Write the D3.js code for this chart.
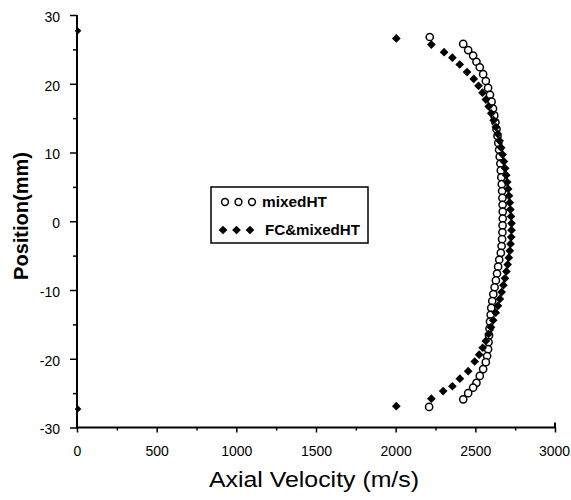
<!DOCTYPE html>
<html>
<head>
<meta charset="utf-8">
<script src="https://cdn.jsdelivr.net/npm/d3@7"></script>
<style>
  body { margin: 0; background: #fff; }
  svg { display: block; font-family: Arial, "Liberation Sans", sans-serif; }
</style>
</head>
<body>
<div id="chart"></div>
<script>
// mixedHT (open markers)
const openPos = [26.8, 25.8, 24.9, 24.1, 23.2, 22.4, 21.4, 20.4, 19.4, 18.4, 17.4, 16.4, 15.4, 14.4,
  13.4, 12.4, 11.4, 10.4, 9.4, 8.4, 7.4, 6.4, 5.4, 4.4, 3.4, 2.4, 1.4, 0.4, -0.6, -1.6, -2.6, -3.6,
  -4.6, -5.6, -6.6, -7.6, -8.6, -9.6, -10.6, -11.6, -12.6, -13.6, -14.6, -15.6, -16.6, -17.6, -18.6,
  -19.6, -20.5, -21.5, -22.5, -23.5, -24.2, -25.0, -25.9, -27.0];
const openVel = [2214, 2424, 2455, 2486, 2507, 2528, 2549, 2566, 2580, 2592, 2602, 2611, 2619, 2626,
  2633, 2639, 2644, 2649, 2653, 2657, 2660, 2663, 2666, 2668, 2670, 2671, 2672, 2672, 2671, 2670, 2668, 2665,
  2660, 2650, 2643, 2636, 2629, 2621, 2613, 2606, 2600, 2596, 2592, 2589, 2586, 2583, 2580,
  2574, 2566, 2549, 2528, 2507, 2486, 2455, 2424, 2210];

// FC&mixedHT (filled markers)
const filledPos = [26.6, 25.7, 24.6, 23.8, 22.8, 21.7, 20.7, 19.7, 18.7, 17.7, 16.7, 15.7, 14.7, 13.7,
  12.7, 11.7, 10.7, 9.7, 8.7, 7.7, 6.7, 5.7, 4.7, 3.7, 2.7, 1.7, 0.7, -0.3, -1.3, -2.3, -3.3, -4.3,
  -5.3, -6.3, -7.3, -8.3, -9.3, -10.3, -11.3, -12.3, -13.3, -14.4, -15.4, -16.4, -17.4, -18.4, -19.4,
  -20.4, -21.8, -22.9, -24.0, -24.7, -25.8, -26.9];
const filledVel = [2004, 2224, 2304, 2356, 2402, 2448, 2490, 2520, 2545, 2566, 2584, 2600, 2615, 2629,
  2641, 2652, 2662, 2671, 2679, 2687, 2694, 2700, 2706, 2711, 2716, 2720, 2724, 2727, 2727, 2725, 2721, 2716,
  2710, 2703, 2695, 2686, 2676, 2665, 2654, 2642, 2628, 2612, 2598, 2583, 2566, 2546, 2524,
  2496, 2455, 2403, 2356, 2298, 2224, 2004];

// stray marks sitting on the y axis
const edgePos = [27.7, -27.3];

const xTicks = [0, 500, 1000, 1500, 2000, 2500, 3000];
const xMinor = [250, 750, 1250, 1750, 2250, 2750];
const yTicks = [-30, -20, -10, 0, 10, 20, 30];
const yMinor = [-25, -15, -5, 5, 15, 25];
const legendLabels = ["mixedHT", "FC&mixedHT"];

const width = 571, height = 500;

const svg = d3.select("#chart").append("svg")
  .attr("width", width)
  .attr("height", height);

const x = d3.scaleLinear().domain([0, 3000]).range([77, 555]);
const y = d3.scaleLinear().domain([-30, 30]).range([427.5, 15]);
const fmt = d => String(d);

// axes
const xAxis = svg.append("g")
  .attr("transform", `translate(0,${y(-30)})`)
  .call(d3.axisBottom(x).tickValues(xTicks).tickFormat(fmt).tickSize(5).tickPadding(14));
xAxis.append("g")
  .call(d3.axisBottom(x).tickValues(xMinor).tickSize(3).tickFormat(""));

const yAxis = svg.append("g")
  .attr("transform", `translate(${x(0)},0)`)
  .call(d3.axisLeft(y).tickValues(yTicks).tickFormat(fmt).tickSize(7).tickPadding(10));
yAxis.append("g")
  .call(d3.axisLeft(y).tickValues(yMinor).tickSize(4).tickFormat(""));

svg.selectAll(".domain").remove();
svg.selectAll(".tick line").attr("stroke", "#000").attr("stroke-width", 1.5);
svg.selectAll(".tick text")
  .attr("font-size", 14)
  .attr("fill", "#000")
  .attr("font-family", "Arial, 'Liberation Sans', sans-serif");
yAxis.selectAll(".tick text").attr("dy", "0.45em");
xAxis.selectAll(".tick text").filter(d => d === 3000).attr("dx", -1);

// axis lines
svg.append("path")
  .attr("d", `M${x(0)},${y(30)}V${y(-30)}H${x(3000)}V${y(-30) - 5}`)
  .attr("fill", "none")
  .attr("stroke", "#000")
  .attr("stroke-width", 2);

// points
const open = openPos.map((p, i) => ({ p, v: openVel[i] }));
const filled = filledPos.map((p, i) => ({ p, v: filledVel[i] }));

const diamond = d3.symbol().type(d3.symbolSquare).size(38);

svg.append("g")
  .selectAll("circle")
  .data(open)
  .join("circle")
  .attr("cx", d => x(d.v))
  .attr("cy", d => y(d.p))
  .attr("r", 3.6)
  .attr("fill", "#fff")
  .attr("stroke", "#000")
  .attr("stroke-width", 1.5);

svg.append("g")
  .selectAll("path")
  .data(filled)
  .join("path")
  .attr("d", diamond)
  .attr("transform", d => `translate(${x(d.v)},${y(d.p)}) rotate(45)`)
  .attr("fill", "#000");

svg.append("g")
  .selectAll("path")
  .data(edgePos)
  .join("path")
  .attr("d", d3.symbol().type(d3.symbolSquare).size(22))
  .attr("transform", d => `translate(${x(0) + 1},${y(d)}) rotate(45)`)
  .attr("fill", "#000");

// legend
const legend = svg.append("g");
legend.append("rect")
  .attr("x", 211).attr("y", 187)
  .attr("width", 157).attr("height", 56)
  .attr("fill", "#fff")
  .attr("stroke", "#000")
  .attr("stroke-width", 1.5);

[0, 1, 2].forEach(k => {
  legend.append("circle")
    .attr("cx", 225 + k * 13.5).attr("cy", 202)
    .attr("r", 3.4)
    .attr("fill", "#fff").attr("stroke", "#000").attr("stroke-width", 1.5);
  legend.append("path")
    .attr("d", diamond)
    .attr("transform", `translate(${223 + k * 13.5},230) rotate(45)`)
    .attr("fill", "#000");
});

legend.append("text")
  .attr("x", 262).attr("y", 207)
  .attr("font-size", 14).attr("font-weight", "bold")
  .attr("textLength", 65).attr("lengthAdjust", "spacingAndGlyphs")
  .text(legendLabels[0]);
legend.append("text")
  .attr("x", 265).attr("y", 235)
  .attr("font-size", 14).attr("font-weight", "bold")
  .attr("textLength", 95).attr("lengthAdjust", "spacingAndGlyphs")
  .text(legendLabels[1]);

// axis titles
svg.append("text")
  .attr("x", 314).attr("y", 487)
  .attr("text-anchor", "middle")
  .attr("font-size", 22)
  .attr("textLength", 210).attr("lengthAdjust", "spacingAndGlyphs")
  .text("Axial Velocity (m/s)");

svg.append("text")
  .attr("transform", "translate(28,216) rotate(-90)")
  .attr("text-anchor", "middle")
  .attr("font-size", 20)
  .attr("font-weight", "bold")
  .text("Position(mm)");
</script>
</body>
</html>
